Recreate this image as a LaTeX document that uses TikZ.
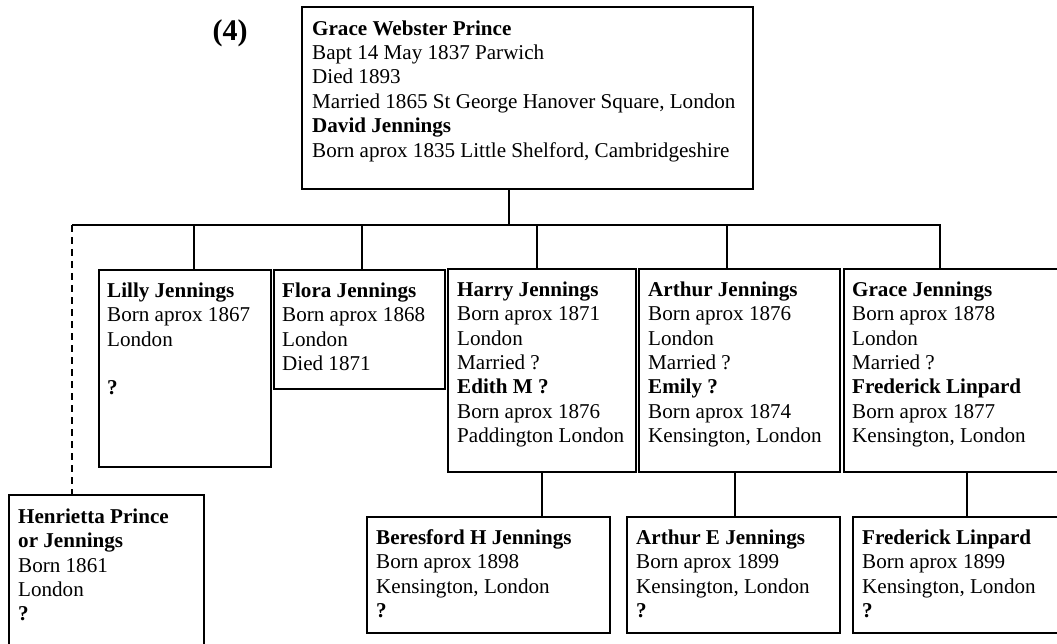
\documentclass[tikz,border=0pt]{standalone}
\usepackage{fontspec}
\setmainfont{Liberation Serif}
\usetikzlibrary{calc}
\newcommand\fstrut{\rule{0pt}{17pt}}
\tikzset{
  x=1pt, y=-1pt,
  person/.style={draw, line width=2.2pt, rectangle, inner sep=0pt, anchor=north west},
  info/.style={anchor=north west, inner sep=0pt, align=left,
    font=\fontsize{21.1}{24.4}\selectfont},
  link/.style={line width=1.6pt},
  maybe/.style={link, dash pattern=on 7pt off 5pt}
}
\begin{document}
\begin{tikzpicture}
\useasboundingbox (0,0) rectangle (1057,644);
\clip (0,0) rectangle (1057,644);

% generation number
\node[font=\fontsize{30}{34}\selectfont\bfseries, anchor=base, inner sep=0pt] (gen) at (230,41) {(4)};

% parents
\node[person, minimum width=451pt, minimum height=182pt] (gwp) at (301,6) {};
\node[info] (gwpt) at ($(gwp.north west)+(11pt,-12pt)$) {\fstrut\textbf{Grace Webster Prince}\\
Bapt 14 May 1837 Parwich\\
Died 1893\\
Married 1865 St George Hanover Square, London\\
\textbf{David Jennings}\\
Born aprox 1835 Little Shelford, Cambridgeshire};

% children
\node[person, minimum width=172pt, minimum height=197pt] (lilly) at (98,269) {};
\node[info] at ($(lilly.north west)+(9pt,-11pt)$) {\fstrut\textbf{Lilly Jennings}\\
Born aprox 1867\\
London\\
~\\
\textbf{?}};

\node[person, minimum width=171pt, minimum height=119pt] (flora) at (273,269) {};
\node[info] at ($(flora.north west)+(9pt,-11pt)$) {\fstrut\textbf{Flora Jennings}\\
Born aprox 1868\\
London\\
Died 1871};

\node[person, minimum width=188pt, minimum height=203pt] (harry) at (447,268) {};
\node[info] at ($(harry.north west)+(10pt,-11pt)$) {\fstrut\textbf{Harry Jennings}\\
Born aprox 1871\\
London\\
Married ?\\
\textbf{Edith M ?}\\
Born aprox 1876\\
Paddington London};

\node[person, minimum width=201pt, minimum height=203pt] (arthur) at (638,268) {};
\node[info] at ($(arthur.north west)+(10pt,-11pt)$) {\fstrut\textbf{Arthur Jennings}\\
Born aprox 1876\\
London\\
Married ?\\
\textbf{Emily ?}\\
Born aprox 1874\\
Kensington, London};

\node[person, minimum width=225pt, minimum height=203pt] (grace) at (843,268) {};
\node[info] at ($(grace.north west)+(9pt,-11pt)$) {\fstrut\textbf{Grace Jennings}\\
Born aprox 1878\\
London\\
Married ?\\
\textbf{Frederick Linpard}\\
Born aprox 1877\\
Kensington, London};

\node[person, minimum width=195pt, minimum height=165pt] (henr) at (8,494) {};
\node[info] at ($(henr.north west)+(10pt,-12pt)$) {\fstrut\textbf{Henrietta Prince}\\
\textbf{or Jennings}\\
Born 1861\\
London\\
\textbf{?}};

% grandchildren
\node[person, minimum width=243pt, minimum height=116pt] (beres) at (366,516) {};
\node[info] at ($(beres.north west)+(10pt,-11pt)$) {\fstrut\textbf{Beresford H Jennings}\\
Born aprox 1898\\
Kensington, London\\
\textbf{?}};

\node[person, minimum width=213pt, minimum height=116pt] (arthure) at (626,516) {};
\node[info] at ($(arthure.north west)+(10pt,-11pt)$) {\fstrut\textbf{Arthur E Jennings}\\
Born aprox 1899\\
Kensington, London\\
\textbf{?}};

\node[person, minimum width=216pt, minimum height=116pt] (fred) at (852,516) {};
\node[info] at ($(fred.north west)+(10pt,-11pt)$) {\fstrut\textbf{Frederick Linpard}\\
Born aprox 1899\\
Kensington, London\\
\textbf{?}};

% sibling bar and drops
\coordinate (stem) at (509,225);
\coordinate (barL) at (72,225);
\coordinate (barR) at (940,225);
\coordinate (d1) at (194,225);
\coordinate (d2) at (362,225);
\coordinate (d3) at (537,225);
\coordinate (d4) at (727,225);

\draw[link] (gwp.south -| stem) -- (stem);
\draw[link] (barL) -- (barR) -- (barR |- grace.north);
\draw[link] (d1) -- (d1 |- lilly.north);
\draw[link] (d2) -- (d2 |- flora.north);
\draw[link] (d3) -- (d3 |- harry.north);
\draw[link] (d4) -- (d4 |- arthur.north);
\draw[maybe] (barL) -- (barL |- henr.north);

% parent to child links
\coordinate (k1) at (542,471);
\coordinate (k2) at (735,471);
\coordinate (k3) at (967,471);
\draw[link] (k1) -- (k1 |- beres.north);
\draw[link] (k2) -- (k2 |- arthure.north);
\draw[link] (k3) -- (k3 |- fred.north);
\end{tikzpicture}
\end{document}
